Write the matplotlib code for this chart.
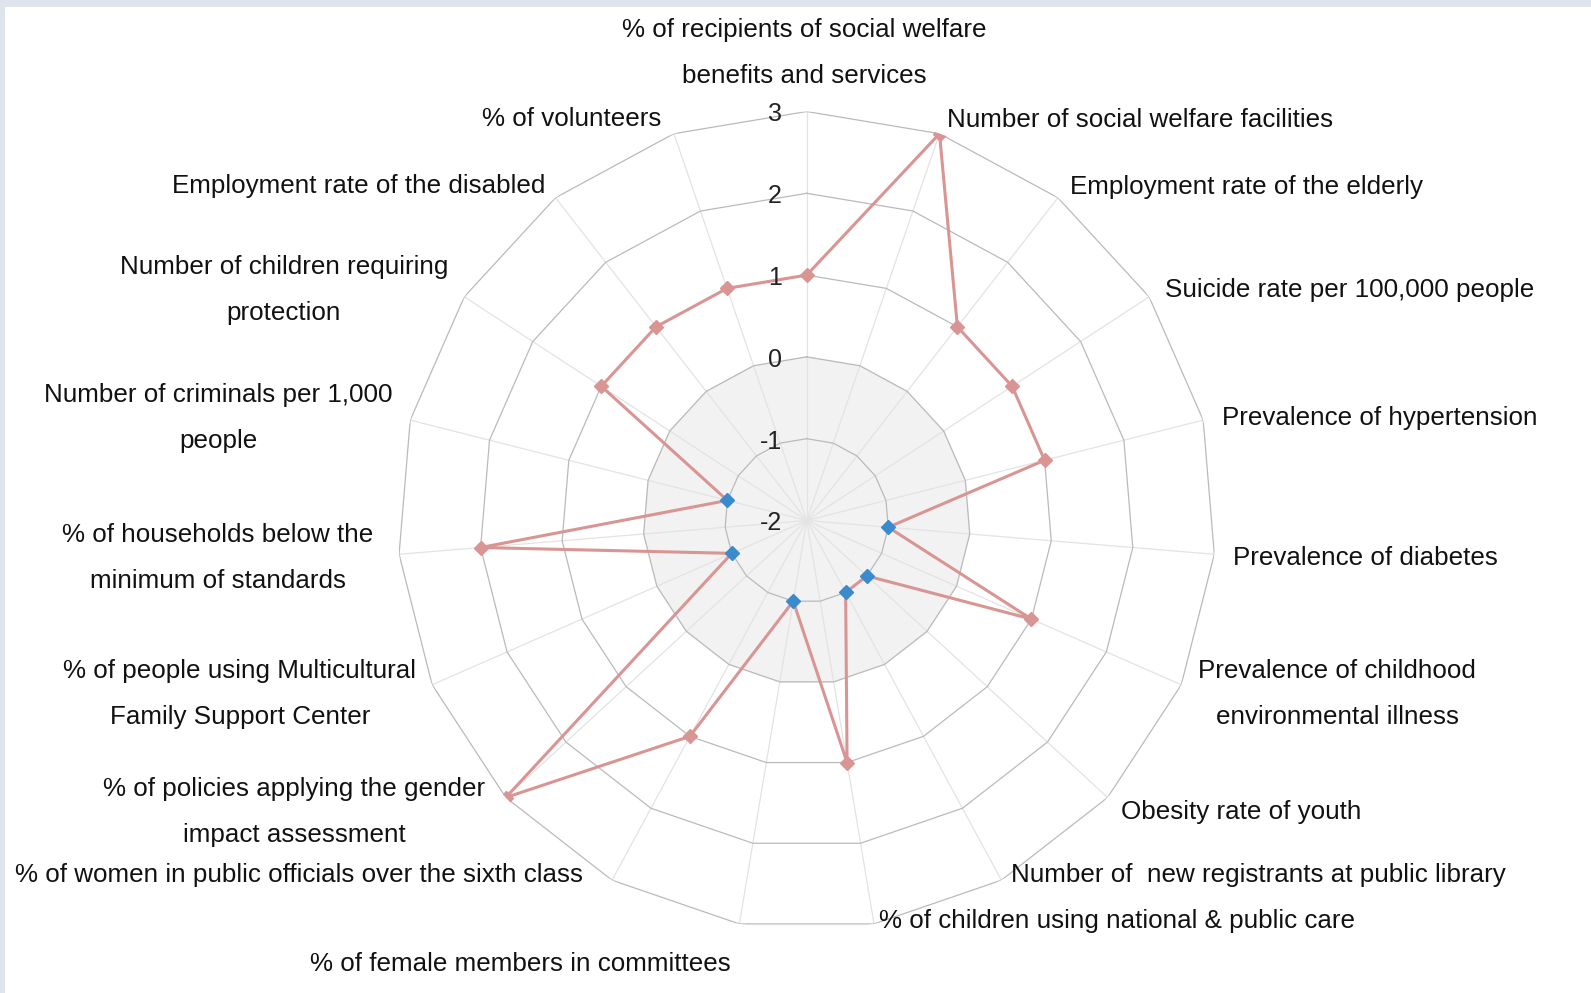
import numpy as np
import matplotlib
matplotlib.use("Agg")
import matplotlib.pyplot as plt
from matplotlib.patches import Rectangle

plt.rcParams["font.family"] = ["Liberation Sans", "DejaVu Sans"]

# indicators, clockwise from the top
categories = [
    "% of recipients of social welfare\nbenefits and services",
    "Number of social welfare facilities",
    "Employment rate of the elderly",
    "Suicide rate per 100,000 people",
    "Prevalence of hypertension",
    "Prevalence of diabetes",
    "Prevalence of childhood\nenvironmental illness",
    "Obesity rate of youth",
    "Number of  new registrants at public library",
    "% of children using national & public care",
    "% of female members in committees",
    "% of women in public officials over the sixth class",
    "% of policies applying the gender\nimpact assessment",
    "% of people using Multicultural\nFamily Support Center",
    "% of households below the\nminimum of standards",
    "Number of criminals per 1,000\npeople",
    "Number of children requiring\nprotection",
    "Employment rate of the disabled",
    "% of volunteers",
]
scores = [1, 3, 1, 1, 1, -1, 1, -1, -1, 1, -1, 1, 3, -1, 2, -1, 1, 1, 1]
ring_levels = [-2, -1, 0, 1, 2, 3]

# label placement (pixels from top-left: x, baseline of last line, alignment)
label_pos = [
    (804, 83, "center"), (947, 127, "left"), (1070, 194, "left"),
    (1165, 297, "left"), (1222, 425, "left"), (1233, 565, "left"),
    (1337, 724, "center"), (1121, 819, "left"), (1011, 882, "left"),
    (879, 928, "left"), (520, 971, "center"), (15, 882, "left"),
    (294, 842, "center"), (240, 724, "center"), (218, 588, "center"),
    (218, 448, "center"), (284, 320, "center"), (545, 193, "right"),
    (661, 126, "right"),
]

W, H = 1591, 993
fig = plt.figure(figsize=(W / 100, H / 100), dpi=100, facecolor="#dde4ec")
fig.patches.append(Rectangle((5 / W, 0), 1, 1 - 7 / H, transform=fig.transFigure,
                             facecolor="white", edgecolor="none", zorder=-10))

cx, cy, rad = 806.7, 520.5, 409
ax = fig.add_axes([(cx - rad) / W, 1 - (cy + rad) / H, 2 * rad / W, 2 * rad / H],
                  projection="polar")
ax.set_facecolor("none")
ax.set_theta_zero_location("N")
ax.set_theta_direction(-1)
ax.set_ylim(-2, 3)
ax.grid(False)
ax.spines["polar"].set_visible(False)
ax.set_xticks([])
ax.set_yticks([])

n = len(categories)
theta = np.arange(n) * 2 * np.pi / n
theta_c = np.append(theta, theta[0])

# shaded band below zero
ax.fill(theta_c, [0] * (n + 1), color="#f2f2f2", zorder=0)

# spokes and rings
for t in theta:
    ax.plot([t, t], [-2, 3], color="#e3e3e3", lw=0.9, zorder=1)
for lv in ring_levels[1:]:
    ax.plot(theta_c, [lv] * (n + 1), color="#bababa", lw=0.9, zorder=2)

for lv in ring_levels:
    ax.annotate(str(lv), xy=(0, lv), xytext=(-25, -3), textcoords="offset pixels",
                ha="right", va="center", fontsize=18, color="#222222", zorder=5)

# data polygon
vals = np.array(scores, dtype=float)
ax.plot(theta_c, np.append(vals, vals[0]), color="#d99594", lw=2.2, zorder=3)
pos = vals >= 0
ax.plot(theta[pos], vals[pos], "D", color="#d99594", ms=7, zorder=4)
ax.plot(theta[~pos], vals[~pos], "D", color="#3a8bcd", ms=7, zorder=4)

for lab, (x, y, ha) in zip(categories, label_pos):
    fig.text(x / W, 1 - y / H, lab, ha=ha, va="baseline", multialignment="center",
             fontsize=18.7, linespacing=2.16, color="#111111")

fig.savefig("out.png", dpi=100)
